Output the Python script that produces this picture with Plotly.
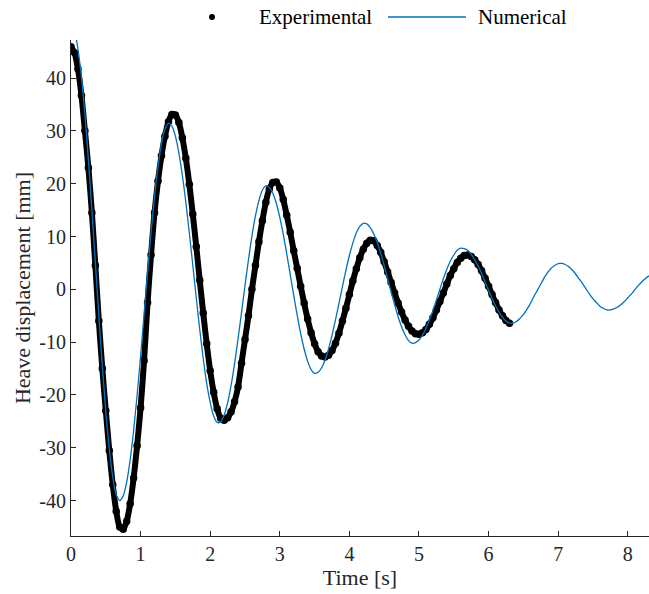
import numpy as np
import plotly.graph_objects as go

dt = 0.05

# Experimental heave displacement [mm], sampled every dt from t = 0
exp_disp = [
    45.9, 44.8, 41.7, 36.7, 30.0, 23.0, 14.5, 4.5, -6.0, -15.0,
    -23.0, -30.5, -37.0, -42.0, -45.0, -45.4, -43.9, -40.6, -35.7, -29.6,
    -22.4, -13.5, -2.5, 6.5, 14.5, 20.5, 25.3, 29.0, 31.7, 33.1,
    33.0, 31.6, 28.7, 24.8, 19.9, 14.2, 8.1, 1.7, -4.5, -10.3,
    -15.4, -19.5, -22.6, -24.4, -24.8, -24.3, -23.2, -21.3, -18.5, -14.0,
    -9.5, -5.0, 0.0, 4.5, 9.0, 13.0, 16.5, 19.0, 20.2, 20.3,
    19.2, 17.0, 14.0, 10.8, 7.3, 4.0, 0.6, -2.6, -5.6, -8.2,
    -10.3, -11.8, -12.6, -12.8, -12.5, -11.6, -10.2, -8.3, -6.0, -3.6,
    -1.0, 1.6, 3.9, 6.0, 7.6, 8.7, 9.3, 9.2, 8.3, 7.0,
    5.2, 3.3, 1.3, -0.7, -2.6, -4.3, -5.8, -7.0, -7.9, -8.4,
    -8.5, -8.2, -7.6, -6.6, -5.4, -3.9, -2.3, -0.7, 1.0, 2.6,
    3.9, 5.1, 5.9, 6.4, 6.5, 6.2, 5.6, 4.7, 3.5, 2.1,
    0.6, -1.0, -2.5, -3.9, -5.0, -5.9, -6.4,
]

# Numerical heave displacement [mm], sampled every dt from t = 0
num_disp = [
    50.0, 48.9, 45.5, 40.2, 33.1, 24.5, 15.0, 5.0, -5.0, -14.5,
    -23.1, -30.2, -35.5, -38.9, -40.0, -39.1, -36.5, -32.3, -26.7, -20.0,
    -12.6, -4.7, 3.2, 10.7, 17.5, 23.2, 27.6, 30.3, 31.4, 30.9,
    29.0, 25.8, 21.6, 16.5, 10.7, 4.6, -1.6, -7.6, -13.1, -17.8,
    -21.4, -24.0, -25.2, -25.1, -23.8, -21.5, -18.2, -14.1, -9.4, -4.4,
    0.7, 5.6, 10.1, 13.9, 16.8, 18.8, 19.6, 19.3, 18.2, 16.3,
    13.6, 10.4, 6.7, 2.8, -1.1, -4.9, -8.4, -11.3, -13.6, -15.2,
    -15.9, -15.7, -14.9, -13.4, -11.3, -8.7, -5.8, -2.7, 0.5, 3.6,
    6.4, 8.8, 10.7, 11.9, 12.5, 12.4, 11.7, 10.5, 8.9, 6.8,
    4.5, 2.0, -0.5, -2.9, -5.2, -7.1, -8.6, -9.7, -10.2, -10.1,
    -9.6, -8.7, -7.4, -5.8, -4.0, -2.0, 0.0, 2.0, 3.8, 5.3,
    6.5, 7.4, 7.8, 7.7, 7.4, 6.6, 5.6, 4.4, 3.0, 1.4,
    -0.2, -1.7, -3.1, -4.3, -5.3, -6.0, -6.4, -6.4, -6.1, -5.5,
    -4.8, -3.8, -2.7, -1.4, -0.2, 1.0, 2.2, 3.2, 4.0, 4.5,
    4.85, 4.9, 4.7, 4.3, 3.7, 2.9, 2.0, 1.1, 0.1, -0.9,
    -1.8, -2.5, -3.2, -3.6, -3.9, -3.9, -3.7, -3.4, -2.9, -2.3,
    -1.6, -0.9, -0.1, 0.7, 1.4, 2.0, 2.5, 2.8,
]

x_ticks = [0, 1, 2, 3, 4, 5, 6, 7, 8]
y_ticks = [-40, -30, -20, -10, 0, 10, 20, 30, 40]
y_tick_text = ["-40", "-30", "-20", "-10", "0", "10", "20", "30", "40"]
series_names = ["Experimental", "Numerical"]

t_exp = np.round(np.arange(len(exp_disp)) * dt, 3)
t_num = np.round(np.arange(len(num_disp)) * dt, 3)

W, H = 649, 594
L, R, T, B = 71, 0, 40, 58
BLUE = "#0072BD"
AX = "#262626"
FONT = "Liberation Serif, Times New Roman, serif"

fig = go.Figure()
fig.add_trace(go.Scatter(
    x=t_exp, y=exp_disp, mode="lines+markers", name=series_names[0],
    line=dict(color="black", width=6, shape="spline", smoothing=0.8),
    marker=dict(color="black", size=7.5),
    showlegend=False,
))
fig.add_trace(go.Scatter(
    x=t_num, y=num_disp, mode="lines", name=series_names[1],
    line=dict(color=BLUE, width=1.3, shape="spline", smoothing=0.8),
    showlegend=False,
))

pw = W - L - R
ph = H - T - B
def px_x(p):
    return (p - L) / pw
def px_y(p):
    return (H - B - p) / ph

# custom legend (MATLAB style)
ly = px_y(17)
fig.add_shape(type="circle", xref="paper", yref="paper",
              x0=px_x(209), x1=px_x(215), y0=px_y(20), y1=px_y(14),
              fillcolor="black", line=dict(color="black", width=0))
fig.add_shape(type="line", xref="paper", yref="paper",
              x0=px_x(388), x1=px_x(466), y0=ly, y1=ly,
              line=dict(color=BLUE, width=1.3))
fig.add_annotation(xref="paper", yref="paper", x=px_x(257), y=ly,
                   text=series_names[0], showarrow=False,
                   xanchor="left", yanchor="middle",
                   font=dict(family=FONT, size=21, color="black"))
fig.add_annotation(xref="paper", yref="paper", x=px_x(476), y=ly,
                   text=series_names[1], showarrow=False,
                   xanchor="left", yanchor="middle",
                   font=dict(family=FONT, size=21, color="black"))

fig.update_layout(
    width=W, height=H,
    margin=dict(l=L, r=R, t=T, b=B, pad=0),
    paper_bgcolor="white", plot_bgcolor="white",
    font=dict(family=FONT, color=AX),
    showlegend=False,
)
fig.update_xaxes(
    range=[0, 8.305], tickvals=x_ticks, ticks="inside", ticklen=5,
    tickcolor=AX, showline=True, linecolor=AX, linewidth=1,
    showgrid=False, zeroline=False,
    tickfont=dict(family=FONT, size=20, color=AX),
    title=dict(text="Time [s]", font=dict(family=FONT, size=22, color=AX), standoff=4),
)
fig.update_yaxes(
    range=[-46.7, 47.2], tickvals=y_ticks, ticktext=y_tick_text,
    ticks="inside", ticklen=5,
    tickcolor=AX, showline=True, linecolor=AX, linewidth=1,
    showgrid=False, zeroline=False,
    tickfont=dict(family=FONT, size=20, color=AX),
    title=dict(text="Heave displacement [mm]", font=dict(family=FONT, size=22, color=AX), standoff=2),
)

fig.write_html("out.html")
